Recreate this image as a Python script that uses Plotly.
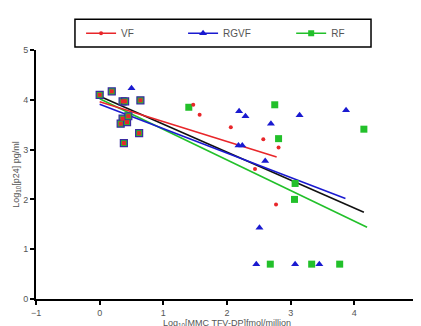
import plotly.graph_objects as go

# ---- data ----
# points shared by all three groups (overlapping markers near the origin)
shared_x = [0.0, 0.19, 0.36, 0.40, 0.64, 0.36, 0.33, 0.43, 0.45, 0.62, 0.38]
shared_y = [4.10, 4.17, 3.97, 3.97, 3.99, 3.62, 3.52, 3.55, 3.67, 3.33, 3.13]

vf_x = [1.47, 1.57, 2.06, 2.57, 2.81, 2.44, 2.77]
vf_y = [3.90, 3.70, 3.45, 3.21, 3.04, 2.61, 1.90]

rgvf_x = [0.50, 2.19, 2.29, 2.69, 3.14, 3.87, 2.18, 2.24, 2.60, 2.51, 2.46, 3.07, 3.45]
rgvf_y = [4.23, 3.77, 3.67, 3.52, 3.69, 3.79, 3.08, 3.08, 2.77, 1.43, 0.70, 0.70, 0.70]

rf_x = [1.40, 2.75, 2.81, 4.15, 3.07, 3.06, 2.68, 3.33, 3.77]
rf_y = [3.85, 3.90, 3.22, 3.41, 2.32, 2.00, 0.70, 0.70, 0.70]

# regression line end points
fit_vf_x, fit_vf_y = [0.0, 2.78], [3.96, 2.85]
fit_rgvf_x, fit_rgvf_y = [0.0, 3.86], [3.91, 2.02]
fit_rf_x, fit_rf_y = [0.0, 4.20], [4.02, 1.44]
fit_all_x, fit_all_y = [0.0, 4.15], [4.07, 1.74]

X_TITLE = "Log<sub>10</sub>[MMC TFV-DP]fmol/million"
Y_TITLE = "Log<sub>10</sub>[p24] pg/ml"

RED, BLUE, GREEN, BLACK = "#e8262a", "#1a1ad0", "#22c02a", "#111111"

fig = go.Figure()

# regression lines
for xs, ys, c in [(fit_rf_x, fit_rf_y, GREEN), (fit_all_x, fit_all_y, BLACK),
                  (fit_rgvf_x, fit_rgvf_y, BLUE), (fit_vf_x, fit_vf_y, RED)]:
    fig.add_trace(go.Scatter(x=xs, y=ys, mode="lines", line=dict(color=c, width=1.6),
                             showlegend=False, hoverinfo="skip"))

# scatter points
fig.add_trace(go.Scatter(x=rgvf_x, y=rgvf_y, mode="markers", showlegend=False,
                         marker=dict(symbol="triangle-up", size=7, color=BLUE)))
fig.add_trace(go.Scatter(x=rf_x, y=rf_y, mode="markers", showlegend=False,
                         marker=dict(symbol="square", size=7, color=GREEN)))
fig.add_trace(go.Scatter(x=vf_x, y=vf_y, mode="markers", showlegend=False,
                         marker=dict(symbol="circle", size=4, color=RED)))
# shared points: green square with blue rim and red centre
fig.add_trace(go.Scatter(x=shared_x, y=shared_y, mode="markers", showlegend=False,
                         marker=dict(symbol="square", size=7, color=GREEN,
                                     line=dict(color="#3a2aa0", width=1.2))))
fig.add_trace(go.Scatter(x=shared_x, y=shared_y, mode="markers", showlegend=False,
                         marker=dict(symbol="square", size=4, color=RED)))

# legend entries
fig.add_trace(go.Scatter(x=[None], y=[None], mode="lines+markers", name="VF", legend="legend",
                         line=dict(color=RED, width=1.5), marker=dict(size=4, color=RED)))
fig.add_trace(go.Scatter(x=[None], y=[None], mode="lines+markers", name="RGVF", legend="legend2",
                         line=dict(color=BLUE, width=1.5),
                         marker=dict(symbol="triangle-up", size=7, color=BLUE)))
fig.add_trace(go.Scatter(x=[None], y=[None], mode="lines+markers", name="RF", legend="legend3",
                         line=dict(color=GREEN, width=1.5),
                         marker=dict(symbol="square", size=6, color=GREEN)))

FONT = dict(family="Liberation Sans, Arial, sans-serif", size=10, color="#555555")
leg_common = dict(orientation="h", yanchor="middle", y=1.067, xanchor="left",
                  bgcolor="rgba(0,0,0,0)", borderwidth=0, font=FONT, itemwidth=30)

fig.update_layout(
    width=421, height=326,
    margin=dict(l=28, r=11, t=38, b=35),
    paper_bgcolor="white", plot_bgcolor="white",
    font=FONT,
    legend=dict(x=0.118, **leg_common),
    legend2=dict(x=0.385, **leg_common),
    legend3=dict(x=0.668, **leg_common),
    shapes=[dict(type="rect", xref="paper", yref="paper", x0=0.102, x1=0.877,
                 y0=1.012, y1=1.123, line=dict(color="black", width=1.5))],
    annotations=[dict(text=X_TITLE, xref="paper", yref="paper", x=0.5, y=-0.097,
                      xanchor="center", yanchor="middle", showarrow=False,
                      font=dict(size=9, color="#555555"))],
    xaxis=dict(range=[-1, 5], tickvals=[-1, 0, 1, 2, 3, 4, 5], showgrid=False, zeroline=False,
               showline=True, linecolor="black", linewidth=2, ticks="outside", ticklen=4,
               tickwidth=1.5, tickcolor="black", tickfont=dict(size=9, color="#555555"),
               automargin=False, ticklabeloverflow="allow"),
    yaxis=dict(range=[0, 5], tickvals=[0, 1, 2, 3, 4, 5], showgrid=False, zeroline=False,
               showline=True, linecolor="black", linewidth=2, ticks="outside", ticklen=4,
               tickwidth=1.5, tickcolor="black", tickfont=dict(size=9, color="#555555"),
               automargin=False,
               title=dict(text=Y_TITLE, font=dict(size=9, color="#555555"), standoff=2)),
)

fig.write_html("out.html")
